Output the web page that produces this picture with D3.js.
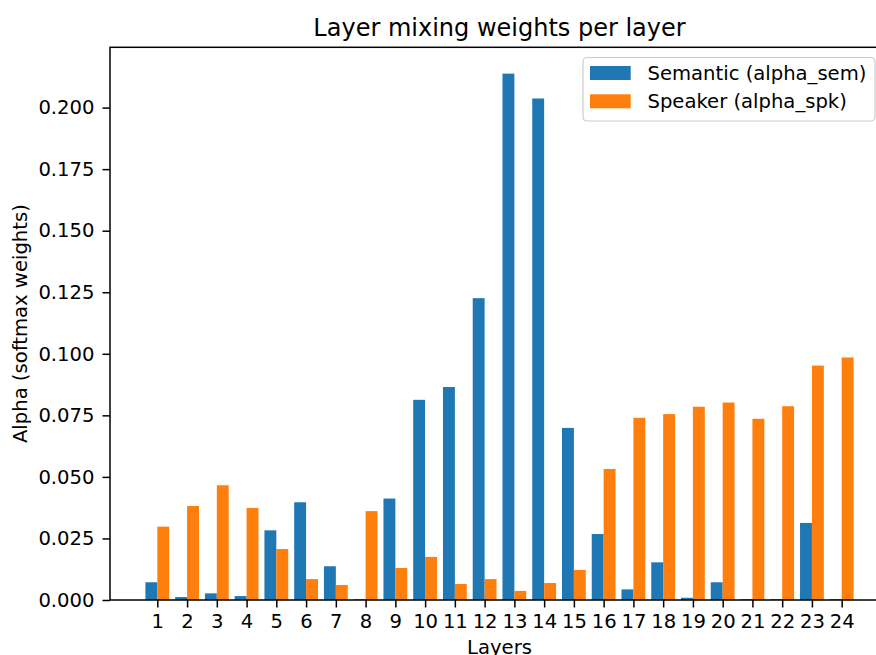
<!DOCTYPE html>
<html>
  <head>
    <meta charset="utf-8">
    <title>Layer mixing weights per layer</title>
    <script src="https://d3js.org/d3.v7.min.js"></script>
    <style>
      body { margin: 0; background: #fff; }
      svg { display: block; font-family: "DejaVu Sans", sans-serif; }
    </style>
  </head>
  <body>
    <div id="chart"></div>

    <script>
      // Values
      var layers = ["1", "2", "3", "4", "5", "6", "7", "8", "9", "10", "11", "12",
                    "13", "14", "15", "16", "17", "18", "19", "20", "21", "22", "23", "24"];
      var alphaSem = [0.0072, 0.0012, 0.0027, 0.0016, 0.0283, 0.0397, 0.0137, 0.0003,
                      0.0412, 0.0813, 0.0865, 0.1226, 0.2138, 0.2037, 0.0699, 0.0268,
                      0.0043, 0.0153, 0.0009, 0.0072, 0.0003, 0.0003, 0.0313, 0.0003];
      var alphaSpk = [0.0298, 0.0382, 0.0466, 0.0374, 0.0207, 0.0085, 0.0061, 0.0361,
                      0.0130, 0.0175, 0.0065, 0.0085, 0.0037, 0.0069, 0.0122, 0.0532,
                      0.0740, 0.0755, 0.0785, 0.0802, 0.0736, 0.0787, 0.0952, 0.0985];
      var yTicks = [0, 0.025, 0.05, 0.075, 0.1, 0.125, 0.15, 0.175, 0.2];
      var seriesNames = ["Semantic (alpha_sem)", "Speaker (alpha_spk)"];
      var colors = ["#1f77b4", "#ff7f0e"];

      var width = 876, height = 655;
      var plotLeft = 110, plotRight = 889, plotTop = 47.3, plotBottom = 600;
      var barW = 0.4;
      var fontSize = 19.6;

      var svg = d3.select("#chart").append("svg")
          .attr("width", width).attr("height", height);

      // x in layer-index units, padded like matplotlib's 5% margin
      var n = layers.length;
      var lo = -barW, hi = (n - 1) + barW, pad = (hi - lo) * 0.05;
      var x = d3.scaleLinear().domain([lo - pad, hi + pad]).range([plotLeft, plotRight]);
      var y = d3.scaleLinear().domain([0, d3.max(alphaSem.concat(alphaSpk)) * 1.05])
          .range([plotBottom, plotTop]);

      var plot = svg.append("g");

      // Semantic bars sit left of the tick, speaker bars right of it
      plot.selectAll("rect.sem").data(alphaSem).enter().append("rect")
          .attr("class", "sem")
          .attr("x", function (d, i) { return x(i - barW); })
          .attr("width", function (d, i) { return x(i) - x(i - barW); })
          .attr("y", function (d) { return y(d); })
          .attr("height", function (d) { return y(0) - y(d); })
          .attr("fill", colors[0]);

      plot.selectAll("rect.spk").data(alphaSpk).enter().append("rect")
          .attr("class", "spk")
          .attr("x", function (d, i) { return x(i); })
          .attr("width", function (d, i) { return x(i + barW) - x(i); })
          .attr("y", function (d) { return y(d); })
          .attr("height", function (d) { return y(0) - y(d); })
          .attr("fill", colors[1]);

      // Axes
      var xAxis = d3.axisBottom(x)
          .tickValues(d3.range(n))
          .tickFormat(function (i) { return layers[i]; })
          .tickSize(7.5).tickPadding(7);
      var gx = svg.append("g").attr("transform", "translate(0," + plotBottom + ")").call(xAxis);

      var yAxis = d3.axisLeft(y)
          .tickValues(yTicks)
          .tickFormat(d3.format(".3f"))
          .tickSize(7.5).tickPadding(8);
      var gy = svg.append("g").attr("transform", "translate(" + plotLeft + ",0)").call(yAxis);

      [gx, gy].forEach(function (g) {
        g.attr("font-family", "DejaVu Sans").attr("font-size", fontSize);
        g.select(".domain").remove();
        g.selectAll(".tick line").attr("stroke", "#000").attr("stroke-width", 1.5);
        g.selectAll(".tick text").attr("fill", "#000");
      });

      // Spines
      svg.append("rect")
          .attr("x", plotLeft).attr("y", plotTop)
          .attr("width", plotRight - plotLeft).attr("height", plotBottom - plotTop)
          .attr("fill", "none").attr("stroke", "#000").attr("stroke-width", 1.5);

      // Title and axis labels
      svg.append("text")
          .attr("x", (plotLeft + plotRight) / 2).attr("y", 36)
          .attr("text-anchor", "middle")
          .style("font-size", "24px")
          .text("Layer mixing weights per layer");

      svg.append("text")
          .attr("x", (plotLeft + plotRight) / 2).attr("y", 654)
          .attr("text-anchor", "middle")
          .style("font-size", fontSize + "px")
          .text("Layers");

      svg.append("text")
          .attr("transform", "translate(27," + (plotTop + plotBottom) / 2 + ") rotate(-90)")
          .attr("text-anchor", "middle")
          .style("font-size", fontSize + "px")
          .text("Alpha (softmax weights)");

      // Legend
      var legend = svg.append("g");
      legend.append("rect")
          .attr("x", 583).attr("y", 57.5)
          .attr("width", 292).attr("height", 63.5)
          .attr("rx", 4).attr("ry", 4)
          .attr("fill", "#fff").attr("fill-opacity", 0.8)
          .attr("stroke", "#cccccc").attr("stroke-width", 1.2);

      var items = legend.selectAll("g.item").data(seriesNames).enter().append("g")
          .attr("transform", function (d, i) { return "translate(0," + (66 + i * 28.3) + ")"; });
      items.append("rect")
          .attr("x", 590).attr("width", 40.7).attr("height", 14)
          .attr("fill", function (d, i) { return colors[i]; });
      items.append("text")
          .attr("x", 647.5).attr("y", 14)
          .style("font-size", fontSize + "px")
          .text(function (d) { return d; });
    </script>
  </body>
</html>
